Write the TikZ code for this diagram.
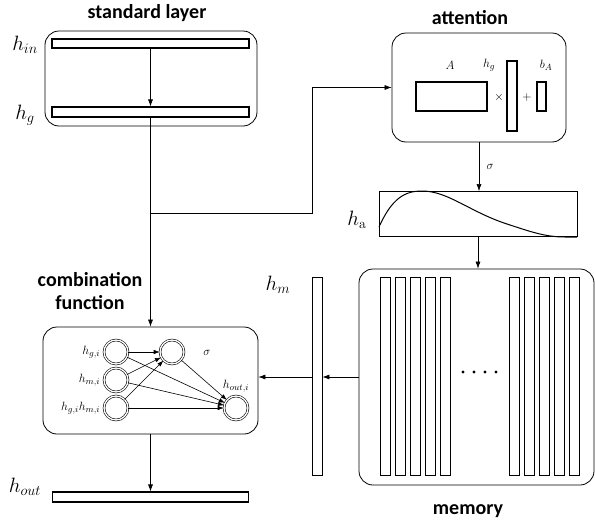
\documentclass[tikz,border=0pt]{standalone}
\usepackage{fontspec}
\setsansfont{Carlito}
\usepackage{amsmath}
\usetikzlibrary{arrows.meta}

\begin{document}
\begin{tikzpicture}[x=1pt, y=-1pt, line width=0.6pt,
    >={Latex[length=7pt,width=5pt]},
    bar/.style={draw, line width=1.1pt, inner sep=0pt},
    block/.style={draw, rounded corners=14pt, line width=0.8pt, inner sep=0pt},
    title/.style={font=\fontsize{20}{23}\selectfont\sffamily\bfseries, align=center},
    lab/.style={font=\fontsize{20}{22}\selectfont},
    note/.style={font=\fontsize{13}{15}\selectfont},
    neuron/.style={circle, draw, double, double distance=1.3pt, line width=0.6pt,
      minimum size=24pt, inner sep=0pt},
    link/.style={-{Latex[length=6pt,width=4.5pt]}}]
  \useasboundingbox (0,0) rectangle (595,525);

  % Стандартный слой
  \node[title] (tstd) at (147,13) {standard layer};
  \node[block, minimum width=212pt, minimum height=95pt] (std) at (151,78.5) {};
  \node[bar, minimum width=197pt, minimum height=9pt] (hin) at (150.5,43.5) {};
  \node[bar, minimum width=197pt, minimum height=10pt] (hg) at (150.5,112) {};
  \node[lab] (lin) at (25,45) {$h_{in}$};
  \node[lab] (lg) at (25,115) {$h_g$};
  \draw[->] (hin.south) -- (hg.north);

  % Внимание
  \node[title] (tatt) at (470,18) {attention};
  \node[block, minimum width=174pt, minimum height=109pt] (att) at (479,87.5) {};
  \node[bar, minimum width=71pt, minimum height=29pt] (amat) at (451.5,96.5) {};
  \node[bar, minimum width=10pt, minimum height=70pt] (avec) at (512,96) {};
  \node[bar, minimum width=9pt, minimum height=29pt] (abias) at (541.5,96.5) {};
  \node[note] (lA) at (450,65) {$A$};
  \node[note] (lhg) at (489,65) {$h_g$};
  \node[note] (lbA) at (546,65) {$b_A$};
  \node[note] (times) at (499,97) {$\times$};
  \node[note] (plus) at (527,97) {$+$};

  % Веса внимания
  \node[draw, line width=0.8pt, minimum width=198pt, minimum height=45pt, inner sep=0pt] (ha) at (478,214) {};
  \node[lab] (la) at (357,220) {$h_{\mathrm{a}}$};
  \draw[line width=1pt] (379,227) .. controls (392,198) and (405,191) .. (422,191)
    .. controls (448,191) and (470,212) .. (507,224)
    .. controls (530,231.5) and (545,237) .. (565,237) -- (577,237);
  \draw[->] (att.south) -- (att.south |- ha.north) node[midway, right=4pt, note] {$\sigma$};

  % Память
  \node[title] (tmem) at (468,511) {memory};
  \node[block, minimum width=235pt, minimum height=216pt] (mem) at (476.5,377) {};
  \foreach \i/\x in {1/385, 2/400, 3/415, 4/430, 5/445, 6/514, 7/529, 8/544, 9/559, 10/574} {
    \node[bar, line width=0.9pt, minimum width=10pt, minimum height=198pt] (m\i) at (\x,376) {};
  }
  \foreach \x in {463,474,485,496} {
    \fill (\x,372) circle (1.6pt);
  }
  \draw[->] (ha.south) -- (ha.south |- mem.north);

  % Вектор из памяти
  \node[bar, line width=0.9pt, minimum width=10pt, minimum height=198pt] (hm) at (317,376) {};
  \node[lab] (lm) at (278,285) {$h_m$};
  \draw[->] (mem.west) -- (mem.west -| hm.east);

  % Функция комбинирования
  \node[title] (tcomb) at (90,291) {combination\\function};
  \node[block, minimum width=215pt, minimum height=107pt] (comb) at (150.5,380.5) {};
  \foreach \i/\y/\txt in {1/352/{h_{g,i}}, 2/380/{h_{m,i}}, 3/408/{h_{g,i}h_{m,i}}} {
    \node[neuron, label={[note]left:$\txt$}] (n\i) at (116,\y) {};
  }
  \node[neuron] (s) at (172,352) {};
  \node[note] (lsig) at (207,353) {$\sigma$};
  \node[neuron, label={[note]above:$h_{out,i}$}] (out) at (236,408) {};
  \foreach \i in {1,2,3} {
    \draw[link] (n\i) -- (s);
    \draw[link] (n\i) -- (out);
  }
  \draw[link] (s) -- (out);
  \draw[->] (hm.west |- mem.west) -- (comb.east |- mem.west);
  \draw[->] (hg.south) -- (comb.north);

  % Ответвление к вниманию
  \coordinate (split) at (150.5,213);
  \coordinate (knee) at (312,213);
  \draw[->] (split) -- (knee) |- (att.west);

  % Выход
  \node[bar, minimum width=196pt, minimum height=10pt] (hout) at (150.5,497) {};
  \node[lab] (lout) at (25,487) {$h_{out}$};
  \draw[->] (comb.south) -- (hout.north);
\end{tikzpicture}
\end{document}
